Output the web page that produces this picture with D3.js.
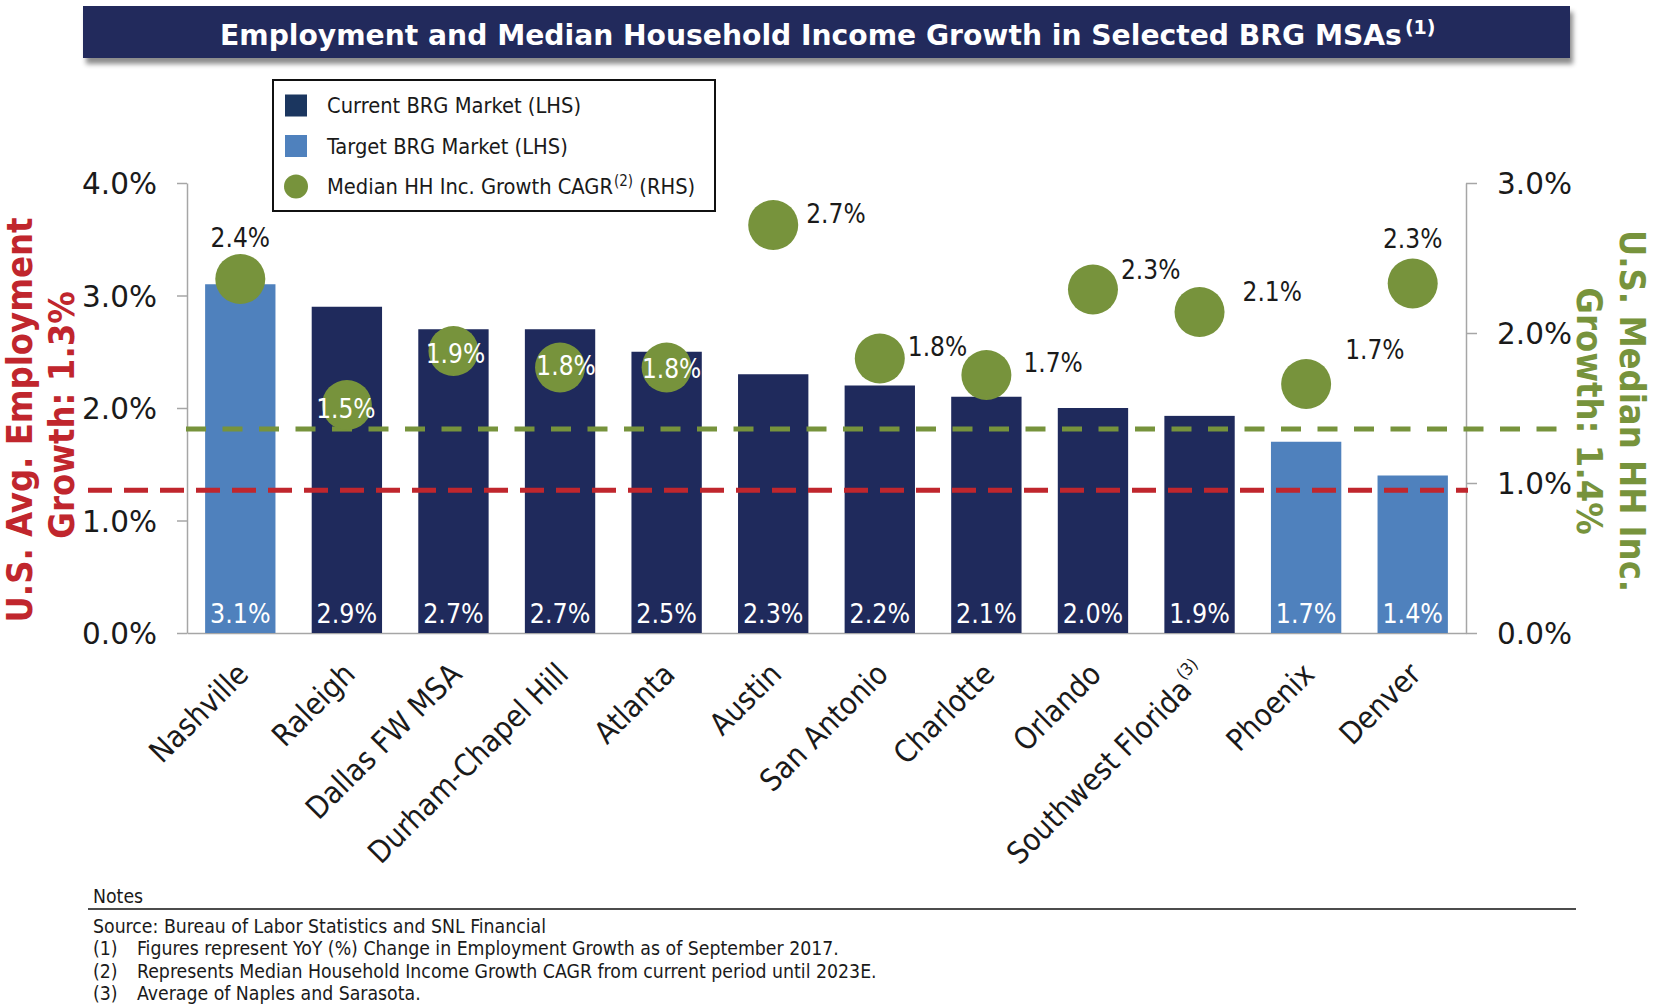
<!DOCTYPE html>
<html>
<head>
<meta charset="utf-8">
<script src="https://cdn.jsdelivr.net/npm/d3@7"></script>
<style>
  html, body { margin: 0; padding: 0; background: #ffffff; }
  svg { display: block; }
  .cond { font-family: "DejaVu Sans Condensed", "DejaVu Sans", sans-serif; font-stretch: condensed; }
  .norm { font-family: "DejaVu Sans", Verdana, sans-serif; }
</style>
</head>
<body>
<svg id="chart" width="1658" height="1006"></svg>
<script>
// ---------------- DATA ----------------
const categories = ["Nashville", "Raleigh", "Dallas FW MSA", "Durham-Chapel Hill", "Atlanta", "Austin",
  "San Antonio", "Charlotte", "Orlando", "Southwest Florida", "Phoenix", "Denver"];
const categoryNotes = ["", "", "", "", "", "", "", "", "", "(3)", "", ""];
const marketType = ["Target", "Current", "Current", "Current", "Current", "Current",
  "Current", "Current", "Current", "Current", "Target", "Target"];
const employmentGrowth = [3.1, 2.9, 2.7, 2.7, 2.5, 2.3, 2.2, 2.1, 2.0, 1.93, 1.7, 1.4];      // LHS, %
const incomeGrowthCAGR = [2.36, 1.52, 1.88, 1.77, 1.77, 2.72, 1.83, 1.72, 2.29, 2.14, 1.66, 2.33]; // RHS, %
const usEmploymentGrowth = 1.27;   // LHS reference line
const usIncomeGrowth = 1.36;       // RHS reference line
const leftTicks = [0, 1, 2, 3, 4];
const rightTicks = [0, 1, 2, 3];
const legendItems = ["Current BRG Market (LHS)", "Target BRG Market (LHS)", "Median HH Inc. Growth CAGR"];
const titleText = "Employment and Median Household Income Growth in Selected BRG MSAs";
const notesLines = [
  ["", "Source: Bureau of Labor Statistics and SNL Financial"],
  ["(1)", "Figures represent YoY (%) Change in Employment Growth as of September 2017."],
  ["(2)", "Represents Median Household Income Growth CAGR from current period until 2023E."],
  ["(3)", "Average of Naples and Sarasota."]
];

// ---------------- LAYOUT / STYLE ----------------
const dotLabelMode = ["above", "inside", "inside", "inside", "inside", "right", "right", "right", "right", "right", "right", "above"];
const dotLabelDx = [0, -1, 2, 6, 5, 33, 28, 37, 28, 43, 39, 0];
const dotLabelDy = [-41, 4, 3, -2, 1, -11, -12, -12, -20, -20, -34, -45];

const C = {
  navy: "#212A5C", current: "#1F2A5C", target: "#4F81BD", legendCurrent: "#1B365F",
  green: "#77933C", red: "#C0262D", axis: "#A6A6A6", text: "#1A1A1A"
};
const fmt = v => v.toFixed(1) + "%";

const svg = d3.select("#chart");
const defs = svg.append("defs");
const f = defs.append("filter").attr("id", "shadow").attr("x", "-5%").attr("y", "-30%").attr("width", "110%").attr("height", "180%");
f.append("feDropShadow").attr("dx", 3).attr("dy", 6).attr("stdDeviation", 2.5).attr("flood-color", "#000").attr("flood-opacity", 0.45);

// ---------------- TITLE ----------------
svg.append("rect").attr("x", 83).attr("y", 6).attr("width", 1487).attr("height", 52)
  .attr("fill", C.navy).attr("filter", "url(#shadow)");
const t = svg.append("text").attr("class", "norm").attr("x", 220).attr("y", 45)
  .attr("font-size", 28.2).attr("font-weight", "bold").attr("fill", "#fff");
t.append("tspan").text(titleText);
t.append("tspan").attr("font-size", 19).attr("dy", -11).attr("dx", 3).text("(1)");

// ---------------- SCALES ----------------
const x = d3.scaleBand().domain(categories).range([187, 1466]).paddingInner(0.34).paddingOuter(0.17);
const yL = d3.scaleLinear().domain([0, 4]).range([633, 183]);
const yR = d3.scaleLinear().domain([0, 3]).range([633, 183]);
const cx = c => x(c) + x.bandwidth() / 2;

// ---------------- AXES ----------------
const gL = svg.append("g").attr("transform", "translate(187,0)")
  .call(d3.axisLeft(yL).tickValues(leftTicks).tickSize(10).tickSizeOuter(0).tickPadding(20).tickFormat(fmt));
const gR = svg.append("g").attr("transform", "translate(1466,0)")
  .call(d3.axisRight(yR).tickValues(rightTicks).tickSize(11).tickSizeOuter(0).tickPadding(20).tickFormat(fmt));
[gL, gR].forEach(g => {
  g.select(".domain").attr("stroke", C.axis).attr("stroke-width", 1.5);
  g.selectAll(".tick line").attr("stroke", C.axis).attr("stroke-width", 1.5);
  g.selectAll(".tick text").attr("class", "norm").attr("font-size", 29.5).attr("fill", C.text).attr("dy", "0.36em");
});

const gX = svg.append("g").attr("transform", "translate(0,633)")
  .call(d3.axisBottom(x).tickSize(0).tickSizeOuter(0).tickPadding(0));
gX.select(".domain").attr("stroke", C.axis).attr("stroke-width", 1.5);
gX.selectAll(".tick text")
  .attr("class", "cond").attr("font-size", 30.5).attr("fill", C.text)
  .attr("text-anchor", "end").attr("x", 0).attr("y", 0).attr("dy", 0)
  .attr("transform", "translate(10,43) rotate(-45)")
  .each(function (d, i) {
    if (categoryNotes[i]) {
      d3.select(this).append("tspan").attr("font-size", 17).attr("dy", -15).attr("dx", 1).text(categoryNotes[i]);
    }
  });

// ---------------- BARS ----------------
svg.append("g").selectAll("rect").data(categories).join("rect")
  .attr("x", d => x(d)).attr("width", x.bandwidth())
  .attr("y", (d, i) => yL(employmentGrowth[i]))
  .attr("height", (d, i) => yL(0) - yL(employmentGrowth[i]))
  .attr("fill", (d, i) => marketType[i] === "Target" ? C.target : C.current);

svg.append("g").selectAll("text").data(categories).join("text")
  .attr("class", "cond").attr("font-size", 26.5).attr("fill", "#fff").attr("text-anchor", "middle")
  .attr("x", d => cx(d)).attr("y", yL(0) - 10)
  .text((d, i) => fmt(employmentGrowth[i]));

// ---------------- REFERENCE LINES ----------------
svg.append("line").attr("x1", 88).attr("x2", 1468)
  .attr("y1", yL(usEmploymentGrowth)).attr("y2", yL(usEmploymentGrowth))
  .attr("stroke", C.red).attr("stroke-width", 5).attr("stroke-dasharray", "24,12");
svg.append("line").attr("x1", 186).attr("x2", 1562)
  .attr("y1", yR(usIncomeGrowth)).attr("y2", yR(usIncomeGrowth))
  .attr("stroke", C.green).attr("stroke-width", 5).attr("stroke-dasharray", "20,16.5");

// ---------------- DOTS ----------------
svg.append("g").selectAll("circle").data(categories).join("circle")
  .attr("cx", d => cx(d)).attr("cy", (d, i) => yR(incomeGrowthCAGR[i])).attr("r", 25)
  .attr("fill", C.green);

svg.append("g").selectAll("text").data(categories).join("text")
  .attr("class", "cond").attr("font-size", 26).attr("dominant-baseline", "central")
  .attr("text-anchor", (d, i) => dotLabelMode[i] === "right" ? "start" : "middle")
  .attr("fill", (d, i) => dotLabelMode[i] === "inside" ? "#fff" : C.text)
  .attr("x", (d, i) => cx(d) + dotLabelDx[i])
  .attr("y", (d, i) => yR(incomeGrowthCAGR[i]) + dotLabelDy[i])
  .text((d, i) => fmt(incomeGrowthCAGR[i]));

// ---------------- SIDE TITLES ----------------
const lt = svg.append("g").attr("class", "cond").attr("font-weight", "bold").attr("font-size", 36).attr("fill", C.red);
lt.append("text").attr("transform", "translate(32,420) rotate(-90)").attr("text-anchor", "middle").text("U.S. Avg. Employment");
lt.append("text").attr("transform", "translate(74,415) rotate(-90)").attr("text-anchor", "middle").text("Growth: " + fmt(usEmploymentGrowth));
const rt = svg.append("g").attr("class", "cond").attr("font-weight", "bold").attr("font-size", 36).attr("fill", C.green);
rt.append("text").attr("transform", "translate(1620,411) rotate(90)").attr("text-anchor", "middle").text("U.S. Median HH Inc.");
rt.append("text").attr("transform", "translate(1577,411) rotate(90)").attr("text-anchor", "middle").text("Growth: " + fmt(usIncomeGrowth));

// ---------------- LEGEND ----------------
const lg = svg.append("g");
lg.append("rect").attr("x", 273).attr("y", 80).attr("width", 442).attr("height", 131)
  .attr("fill", "#fff").attr("stroke", "#111").attr("stroke-width", 2);
const rowsY = [105.5, 146, 186.5];
lg.append("rect").attr("x", 285).attr("y", rowsY[0] - 11).attr("width", 22).attr("height", 22).attr("fill", C.legendCurrent);
lg.append("rect").attr("x", 285).attr("y", rowsY[1] - 11).attr("width", 22).attr("height", 22).attr("fill", C.target);
lg.append("circle").attr("cx", 296).attr("cy", rowsY[2]).attr("r", 12).attr("fill", C.green);
legendItems.forEach((s, i) => {
  const tx = lg.append("text").attr("class", "cond").attr("font-size", 21.7).attr("fill", C.text)
    .attr("x", 327).attr("y", rowsY[i] + 7.5);
  tx.append("tspan").text(s);
  if (i === 2) {
    tx.append("tspan").attr("font-size", 15).attr("dy", -8).attr("dx", 1).text("(2)");
    tx.append("tspan").attr("dy", 8).text(" (RHS)");
  }
});

// ---------------- NOTES ----------------
const ng = svg.append("g").attr("class", "cond").attr("font-size", 19.3).attr("fill", C.text);
ng.append("text").attr("x", 93).attr("y", 903).text("Notes");
svg.append("line").attr("x1", 88).attr("x2", 1576).attr("y1", 909).attr("y2", 909).attr("stroke", "#111").attr("stroke-width", 1.5);
notesLines.forEach((n, i) => {
  const y = 932.5 + i * 22.5;
  if (n[0]) {
    ng.append("text").attr("x", 93).attr("y", y).text(n[0]);
    ng.append("text").attr("x", 137).attr("y", y).text(n[1]);
  } else {
    ng.append("text").attr("x", 93).attr("y", y).text(n[1]);
  }
});
</script>
</body>
</html>
